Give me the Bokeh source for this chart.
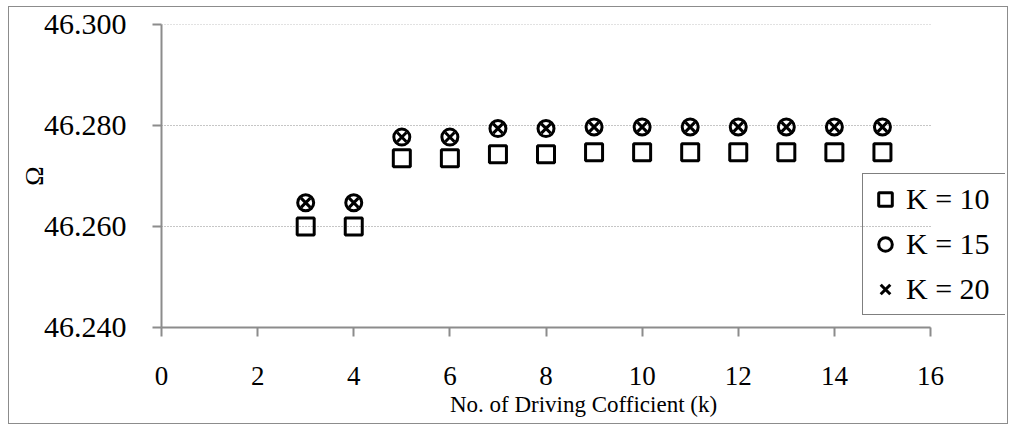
from bokeh.plotting import figure
from bokeh.models import Range1d, FixedTicker, NumeralTickFormatter, Legend, LegendItem
from bokeh.embed import file_html
from bokeh.resources import INLINE

k = [3, 4, 5, 6, 7, 8, 9, 10, 11, 12, 13, 14, 15]
K10 = [46.2600, 46.2600, 46.2735, 46.2735, 46.2743, 46.2743, 46.2747,
       46.2747, 46.2747, 46.2747, 46.2747, 46.2747, 46.2747]
K15 = [46.2647, 46.2647, 46.2777, 46.2777, 46.2794, 46.2794, 46.2797,
       46.2797, 46.2797, 46.2797, 46.2797, 46.2797, 46.2797]
K20 = [46.2647, 46.2647, 46.2777, 46.2777, 46.2794, 46.2794, 46.2797,
       46.2797, 46.2797, 46.2797, 46.2797, 46.2797, 46.2797]
x_ticks = [0, 2, 4, 6, 8, 10, 12, 14, 16]
y_ticks = [46.24, 46.26, 46.28, 46.30]
labels = ["K = 10", "K = 15", "K = 20"]

FONT = "Liberation Serif"
AX = "#8c8c8c"

x_min, x_max = 0, 16
# frame extends past x=16 so the legend (which overhangs the axis end) is not clipped
x_view_end = 16 * 844 / 769

p = figure(width=1000, height=418, output_backend="svg", toolbar_location=None,
           x_range=Range1d(0, x_view_end), y_range=Range1d(46.24, 46.30),
           min_border_left=152, min_border_right=4, min_border_top=17,
           min_border_bottom=98)
p.styles = {"border": "1px solid #8c8c8c", "margin-left": "8px", "margin-top": "6px"}
p.outline_line_color = None
p.xgrid.grid_line_color = None
p.ygrid.grid_line_color = None

# dotted horizontal gridlines spanning 0..16 only
p.segment(x0=[x_min] * len(y_ticks), x1=[x_max] * len(y_ticks), y0=y_ticks, y1=y_ticks,
          line_color="#8c8c8c", line_dash="1 2", line_width=1, level="underlay")

p.xaxis.ticker = FixedTicker(ticks=x_ticks)
p.xaxis.bounds = (x_min, x_max)
p.yaxis.ticker = FixedTicker(ticks=y_ticks)
p.yaxis.formatter = NumeralTickFormatter(format="0.000")
for ax in (p.xaxis, p.yaxis):
    ax.axis_line_color = AX
    ax.axis_line_width = 2
    ax.major_tick_line_color = AX
    ax.major_tick_line_width = 2
    ax.minor_tick_line_color = None
    ax.major_tick_in = 0
    ax.major_tick_out = 9
    ax.major_label_text_font = FONT
    ax.major_label_text_color = "black"
    ax.axis_label_text_font = FONT
    ax.axis_label_text_font_style = "normal"
    ax.axis_label_text_color = "black"

p.yaxis.major_label_text_font_size = "30px"
p.yaxis.major_label_standoff = 26
p.yaxis.axis_label = "Ω"
p.yaxis.axis_label_text_font_size = "26px"
p.yaxis.axis_label_standoff = -8

p.xaxis.major_label_text_font_size = "27px"
p.xaxis.major_label_standoff = 30
p.xaxis.axis_label = "No. of Driving Cofficient (k)"
p.xaxis.axis_label_text_font_size = "23px"
p.xaxis.axis_label_standoff = 4

r10 = p.scatter(k, K10, marker="square", size=17, line_width=3,
                line_color="black", fill_color=None)
r15 = p.scatter(k, K15, marker="circle", size=16, line_width=3,
                line_color="black", fill_color=None)
r20 = p.scatter(k, K20, marker="x", size=13, line_width=3,
                line_color="black")

legend = Legend(items=[LegendItem(label=labels[0], renderers=[r10]),
                       LegendItem(label=labels[1], renderers=[r15]),
                       LegendItem(label=labels[2], renderers=[r20])],
                location=(701, 12), margin=0, padding=5, spacing=5,
                label_text_font=FONT, label_text_font_size="30px",
                label_text_color="black",
                label_height=40, label_width=97, glyph_width=34, glyph_height=34,
                label_standoff=4, border_line_color="black",
                border_line_width=1.5, background_fill_alpha=0.0)
p.add_layout(legend, "center")

open("out.html", "w").write(file_html(p, INLINE))
